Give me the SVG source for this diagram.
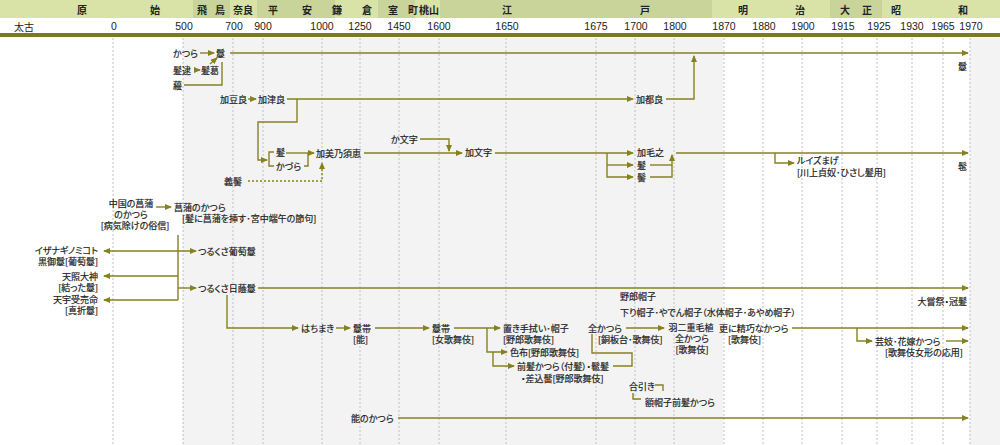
<svg xmlns="http://www.w3.org/2000/svg" width="1000" height="445" viewBox="0 0 1000 445">
<style>
text{font-family:"Noto Sans CJK JP","Noto Sans",sans-serif;fill:#222;dominant-baseline:central}
.t{font-size:9px;font-feature-settings:"palt";stroke:#222;stroke-width:0.2}
.m{text-anchor:middle}
.e{text-anchor:end}
.p{font-size:10px;font-weight:bold;text-anchor:middle}
.y{font-family:"Liberation Sans",Arial,sans-serif;font-size:10.5px;text-anchor:middle}
.c{fill:none;stroke:#86811f;stroke-width:1.4}
.a{marker-end:url(#ah)}
.b{marker-start:url(#ah)}
.d{stroke-dasharray:2,2}
.g{stroke:#c0c0c0;stroke-width:1;stroke-dasharray:2,2}
</style>
<defs>
<marker id="ah" markerWidth="7" markerHeight="6" refX="6" refY="3" orient="auto-start-reverse" markerUnits="userSpaceOnUse"><path d="M0,0 L7,3 L0,6 z" fill="#86811f"/></marker>
</defs>
<g id="background">
<rect x="0" y="0" width="1000" height="445" fill="#ffffff"/>
<rect x="183" y="38" width="540" height="407" fill="#f3f3f3"/>
<rect x="970" y="38" width="30" height="407" fill="#f3f3f3"/>
</g>
<g id="header">
<rect x="0" y="0" width="193" height="18" fill="#d9e3a7"/>
<rect x="193" y="0" width="37" height="18" fill="#c8d49a"/>
<rect x="230" y="0" width="27" height="18" fill="#d9e3a7"/>
<rect x="257" y="0" width="78" height="18" fill="#c8d49a"/>
<rect x="335" y="0" width="43" height="18" fill="#d9e3a7"/>
<rect x="378" y="0" width="37" height="18" fill="#c8d49a"/>
<rect x="415" y="0" width="25" height="18" fill="#d9e3a7"/>
<rect x="440" y="0" width="272" height="18" fill="#c8d49a"/>
<rect x="712" y="0" width="118" height="18" fill="#d9e3a7"/>
<rect x="830" y="0" width="52" height="18" fill="#c8d49a"/>
<rect x="882" y="0" width="118" height="18" fill="#d9e3a7"/>
<rect x="0" y="33" width="1000" height="4" fill="#7d7a1c"/>
<text class="p" x="82" y="9">原</text>
<text class="p" x="155" y="9">始</text>
<text class="p" x="202" y="9">飛</text>
<text class="p" x="220" y="9">鳥</text>
<text class="p" x="243" y="9">奈良</text>
<text class="p" x="273" y="9">平</text>
<text class="p" x="307" y="9">安</text>
<text class="p" x="337" y="9">鎌</text>
<text class="p" x="367" y="9">倉</text>
<text class="p" x="393" y="9">室</text>
<text class="p" x="413" y="9">町</text>
<text class="p" x="429" y="9">桃山</text>
<text class="p" x="507" y="9">江</text>
<text class="p" x="645" y="9">戸</text>
<text class="p" x="743" y="9">明</text>
<text class="p" x="800" y="9">治</text>
<text class="p" x="845" y="9">大</text>
<text class="p" x="867" y="9">正</text>
<text class="p" x="896" y="9">昭</text>
<text class="p" x="963" y="9">和</text>
<text class="y" x="24" y="26" style="font-family:'Noto Sans CJK JP',sans-serif;font-size:10px">太古</text>
<text class="y" x="114" y="26">0</text>
<text class="y" x="184" y="26">500</text>
<text class="y" x="234" y="26">700</text>
<text class="y" x="263" y="26">900</text>
<text class="y" x="322" y="26">1000</text>
<text class="y" x="360" y="26">1250</text>
<text class="y" x="399" y="26">1450</text>
<text class="y" x="439" y="26">1600</text>
<text class="y" x="507" y="26">1650</text>
<text class="y" x="596" y="26">1675</text>
<text class="y" x="636" y="26">1700</text>
<text class="y" x="675" y="26">1800</text>
<text class="y" x="724" y="26">1870</text>
<text class="y" x="764" y="26">1880</text>
<text class="y" x="803" y="26">1900</text>
<text class="y" x="843" y="26">1915</text>
<text class="y" x="879" y="26">1925</text>
<text class="y" x="912" y="26">1930</text>
<text class="y" x="943" y="26">1965</text>
<text class="y" x="971" y="26">1970</text>
</g>
<g id="gridlines">
<path class="g" d="M113,38V445M183,38V445M233,38V445M263,38V445M322,38V445M360,38V445M399,38V445M439,38V445M506,38V445M596,38V445M635,38V445M674,38V445M724,38V445M763,38V445M802,38V445M842,38V445M877,38V445M912,38V445M943,38V445M970,38V445"/>
</g>
<g id="connectors">
<path class="c a" d="M200,53H214"/>
<path class="c a" d="M194,70H200"/>
<path class="c a" d="M210,64L217,58"/>
<path class="c" d="M184,85H222V62"/>
<path class="c a" d="M230,53H968"/>
<path class="c a" d="M248,99H256"/>
<path class="c a" d="M287,99H633"/>
<path class="c a" d="M666,99H694V56"/>
<path class="c a" d="M297,99V122H258V160H267"/>
<path class="c" d="M274,152H269V166H274"/>
<path class="c a" d="M286,153H314"/>
<path class="c" d="M304,166H308V153"/>
<path class="c a" d="M364,153H462"/>
<path class="c a" d="M420,139H449V151"/>
<path class="c a" d="M495,153H633"/>
<path class="c a" d="M607,153V177H633"/>
<path class="c a" d="M607,165H633"/>
<path class="c" d="M650,165H672"/>
<path class="c a" d="M650,177H672V155"/>
<path class="c a" d="M676,153H968"/>
<path class="c a" d="M775,153V163H794"/>
<path class="c a d" d="M248,181H322V163"/>
<path class="c a" d="M156,207H171"/>
<path class="c" d="M178,235V300"/>
<path class="c a b" d="M104,251H196"/>
<path class="c a" d="M178,276H104"/>
<path class="c a" d="M178,288H196"/>
<path class="c a" d="M178,300H104"/>
<path class="c a" d="M258,288H968"/>
<path class="c a" d="M227,295V328H298"/>
<path class="c a" d="M336,328H350"/>
<path class="c a" d="M375,328H429"/>
<path class="c a" d="M454,328H500"/>
<path class="c a" d="M487,328V352H507"/>
<path class="c a" d="M493,352V366H514"/>
<path class="c" d="M613,366H632V353H592V334"/>
<path class="c a" d="M626,328H664"/>
<path class="c a" d="M792,328H968"/>
<path class="c a" d="M857,328V341H872"/>
<path class="c a" d="M946,341H968"/>
<path class="c" d="M655,385H663V391"/>
<path class="c" d="M633,393V399H641"/>
<path class="c a" d="M398,418H968"/>
</g>
<g id="n-katsura"><text class="t" x="173" y="53">かつら</text></g>
<g id="n-kazura-a"><text class="t" x="216" y="53">鬘</text></g>
<g id="n-hatsutai"><text class="t" x="173" y="70">髪逮</text></g>
<g id="n-kamikazura"><text class="t" x="201" y="70">髪葛</text></g>
<g id="n-kazura-plant"><text class="t" x="173" y="85">蘰</text></g>
<g id="n-kazura-end"><text class="t" x="958" y="66">鬘</text></g>
<g id="n-kazura1"><text class="t" x="220" y="99">加豆良</text></g>
<g id="n-kazura2"><text class="t" x="258" y="99">加津良</text></g>
<g id="n-kazura3"><text class="t" x="636" y="99">加都良</text></g>
<g id="n-kami"><text class="t" x="276" y="152">髪</text></g>
<g id="n-kazura4"><text class="t" x="276" y="166">かづら</text></g>
<g id="n-kamisue"><text class="t" x="316" y="153">加美乃須恵</text></g>
<g id="n-gikei"><text class="t" x="224" y="181">義髻</text></g>
<g id="n-kamoji1"><text class="t" x="391" y="139">か文字</text></g>
<g id="n-kamoji2"><text class="t" x="465" y="152">加文字</text></g>
<g id="n-kamoji3"><text class="t" x="637" y="152">加毛之</text></g>
<g id="n-kami2"><text class="t" x="637" y="165">髪</text></g>
<g id="n-kei"><text class="t" x="637" y="177">髻</text></g>
<g id="n-kamoji-end"><text class="t" x="958" y="166">髢</text></g>
<g id="n-louise"><text class="t" x="797" y="160">ルイズまげ</text><text class="t" x="797" y="172">[川上貞奴･ひさし髪用]</text></g>
<g id="n-china"><text class="t m" x="131" y="203">中国の菖蒲</text><text class="t m" x="131" y="214">のかつら</text><text class="t m" x="135" y="225">[病気除けの俗信]</text></g>
<g id="n-shobu"><text class="t" x="174" y="207">菖蒲のかつら</text><text class="t" x="182" y="218">[髪に菖蒲を挿す･宮中端午の節句]</text></g>
<g id="n-izanagi"><text class="t e" x="98" y="250">イザナギノミコト</text><text class="t e" x="98" y="261">黒御鬘[葡萄鬘]</text></g>
<g id="n-amaterasu"><text class="t e" x="98" y="276">天照大神</text><text class="t e" x="98" y="287">[結った鬘]</text></g>
<g id="n-uzume"><text class="t e" x="98" y="299">天宇受売命</text><text class="t e" x="98" y="310">[真折鬘]</text></g>
<g id="n-budo"><text class="t" x="198" y="251">つるくさ葡萄鬘</text></g>
<g id="n-hikage"><text class="t" x="198" y="288">つるくさ日蔭鬘</text></g>
<g id="n-daijosai"><text class="t e" x="967" y="301">大嘗祭・冠髪</text></g>
<g id="n-yaro"><text class="t" x="620" y="296">野郎帽子</text></g>
<g id="n-sagari"><text class="t" x="620" y="312">下り帽子･やでん帽子（水体帽子･あやめ帽子）</text></g>
<g id="n-hachimaki"><text class="t" x="301" y="328">はちまき</text></g>
<g id="n-noh-obi"><text class="t" x="353" y="328">鬘帯</text><text class="t" x="353" y="339">[能]</text></g>
<g id="n-onna-obi"><text class="t" x="432" y="328">鬘帯</text><text class="t" x="432" y="339">[女歌舞伎]</text></g>
<g id="n-okitenugui"><text class="t" x="503" y="328">置き手拭い･帽子</text><text class="t" x="503" y="339">[野郎歌舞伎]</text></g>
<g id="n-irofu"><text class="t" x="510" y="352">色布[野郎歌舞伎]</text></g>
<g id="n-maegami"><text class="t" x="517" y="366" textLength="92" lengthAdjust="spacing">前髪かつら（付髪）・髱髪</text><text class="t" x="521" y="378">・差込髷[野郎歌舞伎]</text></g>
<g id="n-zenkatsura"><text class="t" x="588" y="328">全かつら</text><text class="t" x="598" y="339">[銅板台･歌舞伎]</text></g>
<g id="n-habutae"><text class="t m" x="691" y="327">羽二重毛植</text><text class="t m" x="692" y="338">全かつら</text><text class="t m" x="692" y="349">[歌舞伎]</text></g>
<g id="n-seiko"><text class="t" x="719" y="328">更に精巧なかつら</text><text class="t" x="728" y="339">[歌舞伎]</text></g>
<g id="n-geigi"><text class="t" x="875" y="341">芸妓･花嫁かつら</text><text class="t" x="885" y="352">[歌舞伎女形の応用]</text></g>
<g id="n-aibiki"><text class="t" x="629" y="386">合引き</text></g>
<g id="n-hitai"><text class="t" x="645" y="402">額帽子前髪かつら</text></g>
<g id="n-noh"><text class="t" x="351" y="418">能のかつら</text></g>
</svg>
